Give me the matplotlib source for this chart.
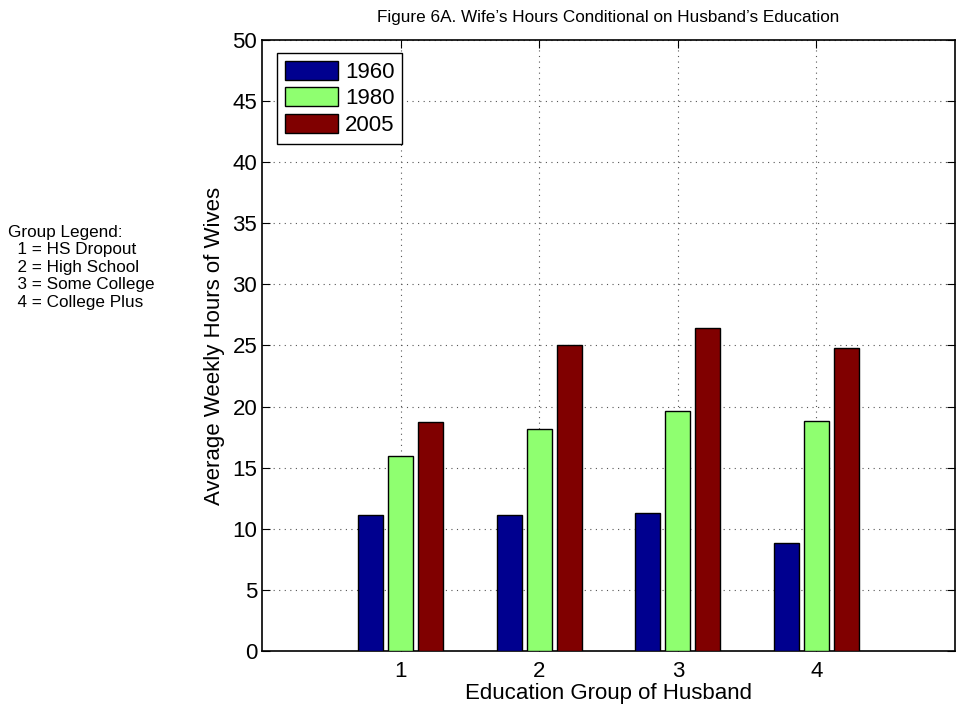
import numpy as np
import matplotlib
matplotlib.use('Agg')
import matplotlib.pyplot as plt

plt.rcParams['font.family'] = ['Liberation Sans', 'DejaVu Sans']

# data
groups = [1, 2, 3, 4]
years = ['1960', '1980', '2005']
hours_1960 = [11.1, 11.1, 11.25, 8.85]
hours_1980 = [15.95, 18.2, 19.6, 18.85]
hours_2005 = [18.75, 25.0, 26.45, 24.8]
colors = ['#00008F', '#8FFF70', '#800000']

fig = plt.figure(figsize=(9.64, 7.13), dpi=100)
ax = fig.add_axes([0.2718, 0.087, 0.7189, 0.857])

x = np.array(groups, dtype=float)
step = 0.216
width = 0.18
for i, (vals, lab) in enumerate(zip([hours_1960, hours_1980, hours_2005], years)):
    ax.bar(x + (i - 1) * step, vals, width, color=colors[i], edgecolor='black',
           linewidth=1.0, label=lab, zorder=3)

ax.set_xlim(0, 5)
ax.set_ylim(0, 50)
ax.set_xticks(groups)
ax.set_yticks(np.arange(0, 51, 5))
ax.tick_params(direction='in', top=True, right=True, labelsize=16, length=6)
ax.tick_params(axis='y', pad=3.5)
ax.tick_params(axis='x', pad=7)
ax.grid(True, linestyle=(0, (1, 4)), color='#555555', linewidth=0.8, zorder=0)
for s in ax.spines.values():
    s.set_linewidth(1.2)

ax.set_xlabel('Education Group of Husband', fontsize=16, labelpad=1)
ax.set_ylabel('Average Weekly Hours of Wives', fontsize=16, labelpad=5)
ax.set_title('Figure 6A. Wife\u2019s Hours Conditional on Husband\u2019s Education',
             fontsize=12.3, pad=13)

leg = ax.legend(loc='upper left', bbox_to_anchor=(0.0216, 0.979), borderaxespad=0,
                fontsize=16, handlelength=2.4, handleheight=0.95, handletextpad=0.3,
                labelspacing=0.2, borderpad=0.35, fancybox=False, framealpha=1,
                edgecolor='black')
leg.get_frame().set_linewidth(1.0)

notes = ['Group Legend:', '  1 = HS Dropout', '  2 = High School',
         '  3 = Some College', '  4 = College Plus']
fig.text(0.008, 1 - 225 / 713, '\n'.join(notes), fontsize=12.3, va='top',
         ha='left', linespacing=1.2)

fig.savefig('out.png', dpi=100)
